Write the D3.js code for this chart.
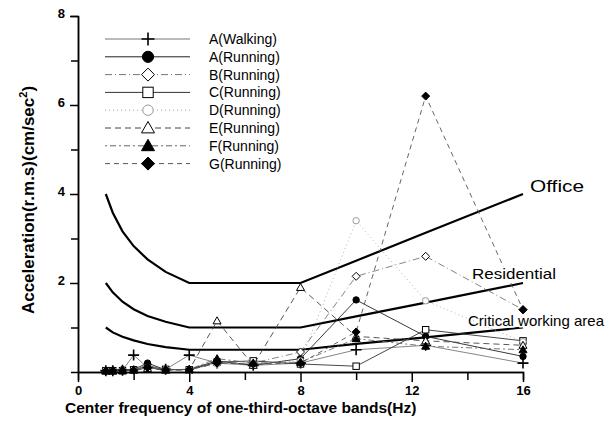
<!DOCTYPE html>
<html>
<head>
<meta charset="utf-8">
<script src="https://cdn.jsdelivr.net/npm/d3@7"></script>
<style>
  body { margin: 0; background: #fff; }
  svg { font-family: Arial, "Liberation Sans", sans-serif; }
  .tick-label { font-weight: bold; font-size: 13px; }
  .axis-title { font-weight: bold; }
  .legend-label { font-size: 14px; }
</style>
</head>
<body>
<div id="chart"></div>
<script>
// one-third-octave band centre frequencies (Hz)
const freqs = [1, 1.25, 1.6, 2, 2.5, 3.15, 4, 5, 6.3, 8, 10, 12.5, 16];

// measured accelerations (cm/sec^2), one value per band
const aWalking = [0.03, 0.03, 0.04, 0.38, 0.1, 0.06, 0.38, 0.2, 0.15, 0.2, 0.5, 0.6, 0.2];
const aRunning = [0.03, 0.04, 0.05, 0.06, 0.2, 0.05, 0.06, 0.25, 0.15, 0.3, 1.62, 0.8, 0.35];
const bRunning = [0.02, 0.03, 0.03, 0.04, 0.1, 0.05, 0.05, 0.2, 0.2, 0.45, 2.15, 2.6, 1.4];
const cRunning = [0.03, 0.03, 0.03, 0.05, 0.12, 0.06, 0.05, 0.22, 0.25, 0.18, 0.13, 0.95, 0.7];
const dRunning = [0.02, 0.02, 0.03, 0.03, 0.08, 0.05, 0.04, 0.18, 0.2, 0.25, 3.4, 1.6, 0.68];
const eRunning = [0.02, 0.02, 0.03, 0.04, 0.08, 0.04, 0.05, 1.15, 0.15, 1.9, 0.8, 0.7, 0.6];
const fRunning = [0.03, 0.03, 0.03, 0.05, 0.15, 0.05, 0.06, 0.3, 0.2, 0.22, 0.75, 0.58, 0.5];
const gRunning = [0.02, 0.03, 0.03, 0.04, 0.1, 0.05, 0.05, 0.2, 0.18, 0.2, 0.9, 6.2, 1.4];

// criterion curves
const office = [4, 3.58, 3.16, 2.83, 2.53, 2.25, 2, 2, 2, 2, 2.5, 3.13, 4];
const residential = [2, 1.79, 1.58, 1.41, 1.26, 1.13, 1, 1, 1, 1, 1.25, 1.56, 2];
const critical = [1, 0.89, 0.79, 0.71, 0.63, 0.56, 0.5, 0.5, 0.5, 0.5, 0.63, 0.78, 1];

const seriesNames = ['A(Walking)', 'A(Running)', 'B(Running)', 'C(Running)',
  'D(Running)', 'E(Running)', 'F(Running)', 'G(Running)'];
const criterionNames = ['Office', 'Residential', 'Critical working area'];

const xTicks = [0, 4, 8, 12, 16];
const xMinorTicks = [2, 6, 10, 14];
const yTicks = [2, 4, 6, 8];
const yMinorTicks = [1, 3, 5, 7];

// ============== Styles ==============
const seriesValues = [aWalking, aRunning, bRunning, cRunning, dRunning, eRunning, fRunning, gRunning];
const seriesStyle = [
  {stroke: '#777', dash: null, marker: 'plus', fill: 'none', mstroke: '#000'},
  {stroke: '#222', dash: null, marker: 'circle', fill: '#000', mstroke: '#000'},
  {stroke: '#777', dash: '7,3,1,3', marker: 'diamond', fill: '#fff', mstroke: '#000'},
  {stroke: '#333', dash: null, marker: 'square', fill: '#fff', mstroke: '#000'},
  {stroke: '#aaa', dash: '1,3', marker: 'circle', fill: '#fff', mstroke: '#999'},
  {stroke: '#444', dash: '6,4', marker: 'triangle', fill: '#fff', mstroke: '#000'},
  {stroke: '#666', dash: '2,3,6,3', marker: 'triangle', fill: '#000', mstroke: '#000'},
  {stroke: '#555', dash: '5,4', marker: 'diamond', fill: '#000', mstroke: '#000'}
];

// ============== SVG ==============
const width = 615, height = 423;
const svg = d3.select('#chart')
  .append('svg')
  .attr('width', width)
  .attr('height', height);

const x = d3.scaleLinear().domain([0, 16]).range([78, 523]);
const y = d3.scaleLinear().domain([0, 8]).range([372, 16]);

// ============== Axes ==============
const xAxis = svg.append('g')
  .attr('transform', `translate(0,${y(0)})`)
  .call(d3.axisBottom(x).tickValues(xTicks).tickSize(10).tickSizeOuter(0).tickPadding(4));
xAxis.append('g')
  .call(d3.axisBottom(x).tickValues(xMinorTicks).tickSize(8).tickFormat(''));

const yAxis = svg.append('g')
  .attr('transform', `translate(${x(0)},0)`)
  .call(d3.axisLeft(y).tickValues(yTicks).tickSize(8).tickSizeOuter(0).tickPadding(5));
yAxis.append('g')
  .call(d3.axisLeft(y).tickValues(yMinorTicks).tickSize(7).tickFormat(''));

svg.selectAll('.domain').attr('stroke', '#000').attr('stroke-width', 1.5);
svg.selectAll('.tick line').attr('stroke', '#000').attr('stroke-width', 1.5);
svg.selectAll('.tick text')
  .attr('class', 'tick-label')
  .attr('fill', '#000');
yAxis.selectAll('.tick text').attr('dy', '0.1em');

svg.append('text')
  .attr('class', 'axis-title')
  .attr('x', 65)
  .attr('y', 413)
  .attr('font-size', 15.5)
  .text('Center frequency of one-third-octave bands(Hz)');

const yTitle = svg.append('text')
  .attr('class', 'axis-title')
  .attr('transform', 'translate(34,200) rotate(-90)')
  .attr('text-anchor', 'middle')
  .attr('font-size', 17);
yTitle.append('tspan').text('Acceleration(r.m.s)(cm/sec');
yTitle.append('tspan').attr('font-size', 11).attr('dy', -7).text('2');
yTitle.append('tspan').attr('dy', 7).text(')');

// ============== Criterion curves ==============
const line = d3.line()
  .x((d, i) => x(freqs[i]))
  .y(d => y(d));

svg.selectAll('.criterion')
  .data([office, residential, critical])
  .enter()
  .append('path')
  .attr('class', 'criterion')
  .attr('d', line)
  .attr('fill', 'none')
  .attr('stroke', '#000')
  .attr('stroke-width', 2.2);

// ============== Marker shapes ==============
function drawMarker(g, type, s, fill, stroke) {
  if (type === 'plus') {
    g.append('path').attr('d', `M${-s},0H${s}M0,${-s}V${s}`)
      .attr('stroke', stroke).attr('stroke-width', 1.6);
  } else if (type === 'circle') {
    g.append('circle').attr('r', s * 0.8)
      .attr('fill', fill).attr('stroke', stroke).attr('stroke-width', 1);
  } else if (type === 'square') {
    g.append('rect').attr('x', -s * 0.8).attr('y', -s * 0.8)
      .attr('width', s * 1.6).attr('height', s * 1.6)
      .attr('fill', fill).attr('stroke', stroke).attr('stroke-width', 1);
  } else if (type === 'diamond') {
    g.append('path').attr('d', `M0,${-s}L${s},0L0,${s}L${-s},0Z`)
      .attr('fill', fill).attr('stroke', stroke).attr('stroke-width', 1);
  } else if (type === 'triangle') {
    g.append('path').attr('d', `M0,${-s}L${s},${s * 0.75}L${-s},${s * 0.75}Z`)
      .attr('fill', fill).attr('stroke', stroke).attr('stroke-width', 1);
  }
}

// ============== Series ==============
seriesValues.forEach((vals, k) => {
  const st = seriesStyle[k];
  const g = svg.append('g').attr('class', 'series');
  g.append('path')
    .attr('d', line(vals))
    .attr('fill', 'none')
    .attr('stroke', st.stroke)
    .attr('stroke-width', 0.9)
    .attr('stroke-dasharray', st.dash);
  g.selectAll('.pt')
    .data(vals)
    .enter()
    .append('g')
    .attr('class', 'pt')
    .attr('transform', (d, i) => `translate(${x(freqs[i])},${y(d)})`)
    .each(function(d, i) {
      const size = st.marker === 'plus' ? 5.5 : 4;
      drawMarker(d3.select(this), st.marker, size, st.fill, st.mstroke);
    });
});

// ============== Criterion labels ==============
// [x, baseline y, drawn width]
const criterionPos = [[530, 192, 54], [472, 279, 84], [468, 326, 136]];
svg.selectAll('.criterion-label')
  .data(criterionNames)
  .enter()
  .append('text')
  .attr('class', 'criterion-label')
  .attr('x', (d, i) => criterionPos[i][0])
  .attr('y', (d, i) => criterionPos[i][1])
  .attr('font-size', (d, i) => i === 0 ? 16 : 15)
  .attr('textLength', (d, i) => criterionPos[i][2])
  .attr('lengthAdjust', 'spacingAndGlyphs')
  .attr('paint-order', 'stroke')
  .attr('stroke', '#fff')
  .attr('stroke-width', 3)
  .text(d => d);

// ============== Legend ==============
const legend = svg.append('g').attr('class', 'legend');
seriesNames.forEach((name, k) => {
  const st = seriesStyle[k];
  const ly = 39 + k * 17.8;
  legend.append('line')
    .attr('x1', 105).attr('x2', 190)
    .attr('y1', ly).attr('y2', ly)
    .attr('stroke', st.stroke)
    .attr('stroke-width', 1)
    .attr('stroke-dasharray', st.dash);
  const m = legend.append('g').attr('transform', `translate(148,${ly})`);
  drawMarker(m, st.marker, k === 1 ? 7 : 6.5, st.fill, st.mstroke);
  legend.append('text')
    .attr('class', 'legend-label')
    .attr('x', 209)
    .attr('y', ly + 5)
    .text(name);
});
</script>
</body>
</html>
